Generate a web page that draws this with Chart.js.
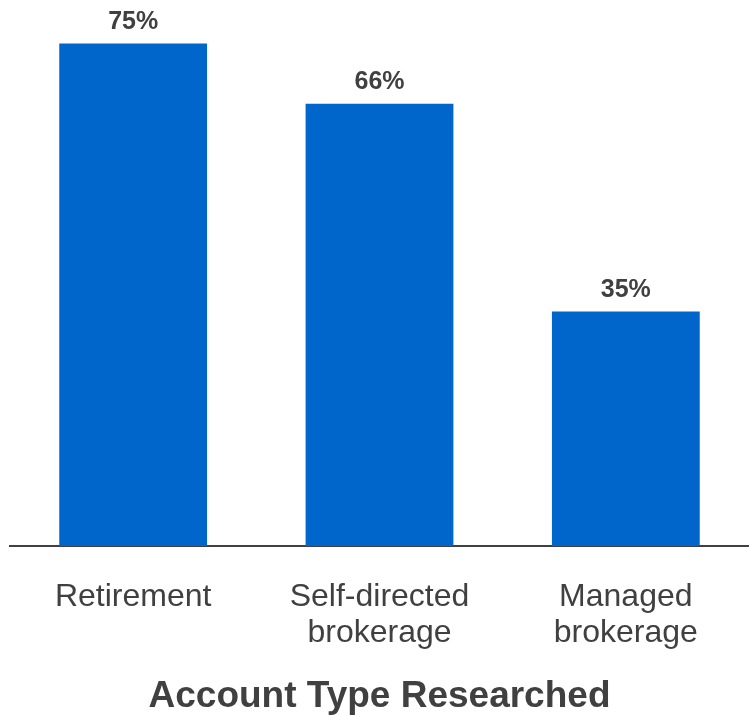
<!DOCTYPE html>
<html>
<head>
<meta charset="utf-8">
<script src="https://cdn.jsdelivr.net/npm/chart.js@4"></script>
<style>
  html, body { margin: 0; padding: 0; background: #fff; }
  #wrap { width: 749px; height: 715px; position: relative; }
</style>
</head>
<body>
<div id="wrap"><canvas id="account_chart"></canvas></div>
<script>
var accountTypes = ['Retirement', ['Self-directed', 'brokerage'], ['Managed', 'brokerage']];
var researchedPct = [75, 66, 35];

var textColor = '#404040';
var barColor = '#0066cc';

// percent labels above each bar
var valueLabels = {
    id: 'valueLabels',
    afterDatasetsDraw: function (chart) {
        var ctx = chart.ctx;
        var meta = chart.getDatasetMeta(0);
        ctx.save();
        ctx.font = 'bold 25px "Liberation Sans", Arial, sans-serif';
        ctx.fillStyle = textColor;
        ctx.textAlign = 'center';
        ctx.textBaseline = 'alphabetic';
        meta.data.forEach(function (bar, i) {
            ctx.fillText(researchedPct[i] + '%', bar.x, bar.y - 15);
        });
        ctx.restore();
    }
};

var account_ctx = document.getElementById('account_chart').getContext('2d');
var account_myChart = new Chart(account_ctx, {
    type: 'bar',
    data: {
        labels: accountTypes,
        datasets: [{
            label: 'Researched',
            data: researchedPct,
            backgroundColor: barColor,
            borderWidth: 0,
            categoryPercentage: 1,
            barPercentage: 0.6
        }]
    },
    options: {
        responsive: true,
        maintainAspectRatio: false,
        animation: false,
        layout: {
            padding: { left: 10, right: 0, top: 10, bottom: 0 }
        },
        plugins: {
            legend: { display: false },
            tooltip: { enabled: false }
        },
        scales: {
            y: {
                display: false,
                min: 0,
                max: 80
            },
            x: {
                grid: { display: false },
                border: { display: true, color: textColor, width: 2 },
                ticks: {
                    color: textColor,
                    padding: 26,
                    font: { family: '"Liberation Sans", Arial, sans-serif', size: 32, lineHeight: 1.1 }
                },
                title: {
                    display: true,
                    text: 'Account Type Researched',
                    color: textColor,
                    padding: { top: 0, bottom: -4 },
                    font: { family: '"Liberation Sans", Arial, sans-serif', size: 37, weight: 'bold' }
                },
                afterFit: function (scale) {
                    scale.height = 169;
                }
            }
        }
    },
    plugins: [valueLabels]
});
</script>
</body>
</html>
